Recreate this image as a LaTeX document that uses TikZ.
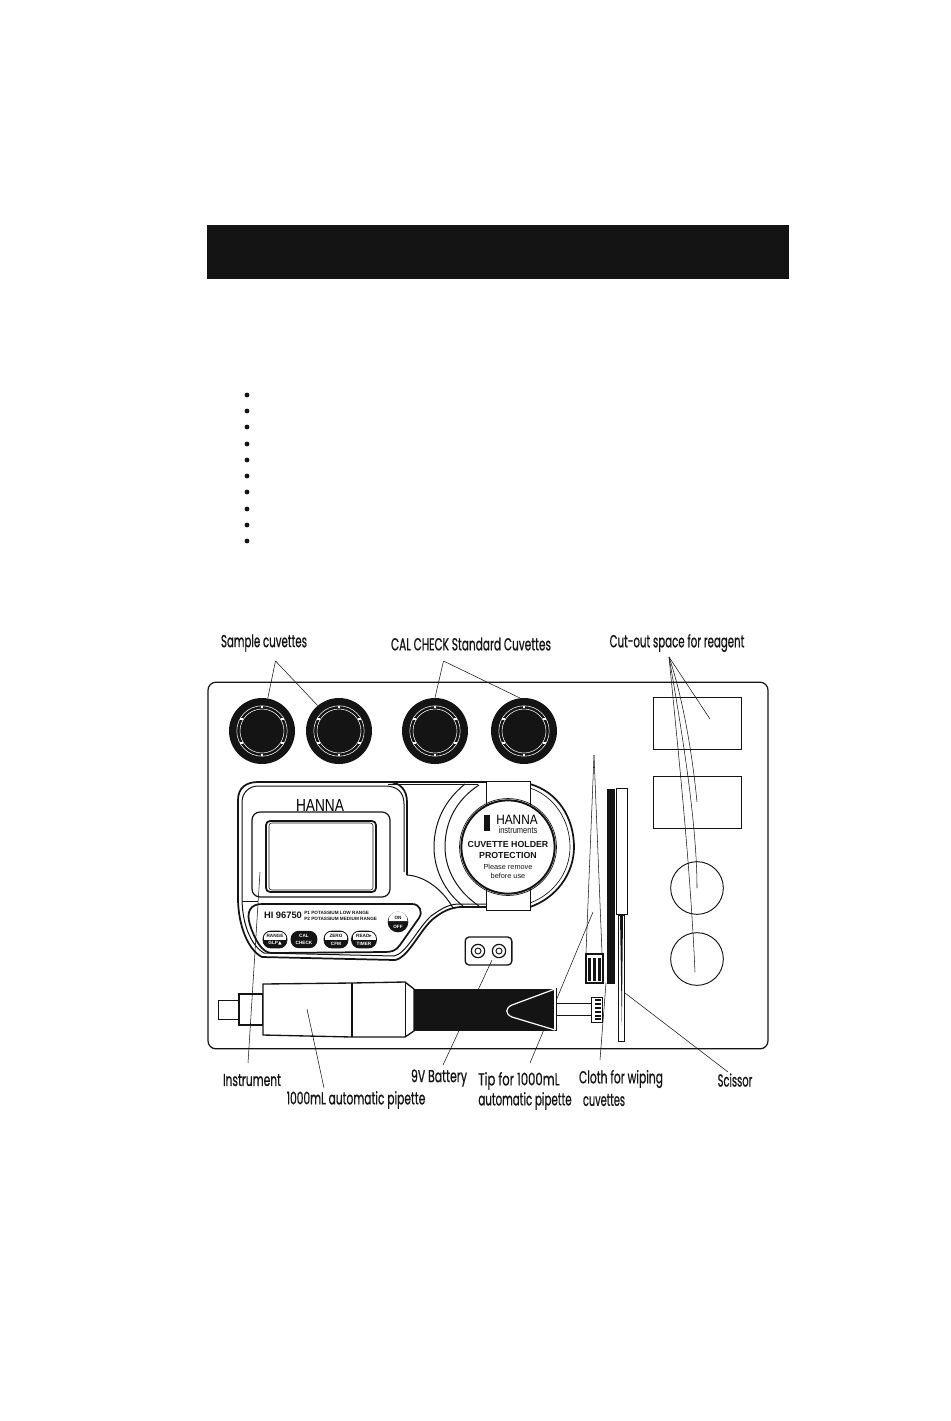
\documentclass[tikz,border=0pt]{standalone}
\usepackage{fontspec}
\usepackage{graphicx}
\setmainfont{Liberation Sans}
\newfontfamily\labfont[FakeBold=0.9]{Poppins}
\newfontfamily\symfont{DejaVu Sans}
\newcommand{\lbl}[2]{\resizebox*{#1pt}{\totalheight}{\labfont\fontsize{13pt}{15pt}\selectfont #2}}
\definecolor{ink}{HTML}{141414}
\tikzset{
  thin line/.style={draw=ink,line width=0.5pt},
  lead/.style={draw=ink,line width=0.4pt},
  outline/.style={draw=ink,line width=0.75pt},
  heavy/.style={draw=ink,line width=1.3pt},
  label text/.style={inner sep=0pt,text=ink},
  cuvette/.style={circle,fill=ink,minimum size=49.5pt,inner sep=0pt},
  reagent box/.style={rectangle,draw=ink,line width=0.7pt,fill=white,minimum width=66pt,minimum height=39pt,inner sep=0pt},
  reagent disc/.style={circle,draw=ink,line width=0.7pt,fill=white,minimum size=39.5pt,inner sep=0pt},
  bullet dot/.style={circle,fill=ink,minimum size=3.6pt,inner sep=0pt},
  fine text/.style={inner sep=0pt,text=ink,align=center},
}
\begin{document}
\begin{tikzpicture}[x=0.75pt,y=-0.75pt]
\useasboundingbox (0,0) rectangle (950,1421);
\fill[white] (0,0) rectangle (950,1421);
% header
\node[fill=ink,minimum width=436.5pt,minimum height=40.5pt,inner sep=0pt] (header) at (498,252) {};
% bullets
\foreach \i/\y in {1/395,2/411,3/427,4/444,5/460,6/476,7/492,8/509,9/525,10/541}
  \node[bullet dot] (b\i) at (247,\y) {};
% tray
\node[draw=ink,line width=0.9pt,rounded corners=6pt,minimum width=420pt,minimum height=275pt,inner sep=0pt] (tray) at (488,865.5) {};
% cuvettes
\foreach \n/\x in {c1/262,c2/339,c3/435,c4/524}{
  \node[cuvette] (\n) at (\x,731) {};
  \draw[white,line width=0.4pt] (\n) circle (25.2);
  \draw[white,line width=0.4pt] (\n) circle (22);
  \foreach \a in {30,90,150,210,270,330}
    \fill[white] (\n) ++(\a:24) ++(-1.4,-1.4) rectangle ++(2.8,2.8);
}
% reagent spaces
\node[reagent box] (r1) at (697,723) {};
\node[reagent box] (r2) at (697,802) {};
\node[reagent disc] (r3) at (697,888) {};
\node[reagent disc] (r4) at (697,959) {};
% instrument body
\draw[heavy] (238,898) -- (238,800) .. controls (238,788) and (246,782) .. (258,782) -- (388,782) .. controls (400,782) and (407,790) .. (407,802) -- (407,875);
\draw[outline] (242,898) -- (242,802) .. controls (242,792) and (250,786) .. (258,786) -- (385,786) .. controls (397,786) and (404,792) .. (404,804) -- (404,872);
\draw[outline] (388,784) -- (478,784);
\draw[heavy] (388,782) -- (487,782);
\draw[outline] (407,875) .. controls (425,876) and (443,890) .. (453,908);
\draw[heavy] (238,898) .. controls (238,925) and (248,950) .. (262,957) -- (395,960) .. controls (408,958) and (420,930) .. (433,919) .. controls (443,911) and (450,908) .. (460,907) -- (487,907);
\draw[outline] (242,898) .. controls (242,922) and (250,945) .. (264,953) -- (394,956) .. controls (406,954) and (418,928) .. (431,916) .. controls (441,909) and (448,904) .. (460,904) -- (487,904);
% bezel and screen
\draw[outline,rounded corners=6pt,line width=0.9pt] (252,812) rectangle (390,897);
\draw[heavy,rounded corners=3pt] (266,821) rectangle (376,892);
\draw[draw=ink,line width=0.4pt,rounded corners=2pt] (269,823) rectangle (373,890);
\draw[thin line] (242,901) -- (258,901);
% keypad panel
\draw[heavy] (262,904) -- (412,904) .. controls (420,904) and (423,912) .. (419,918) -- (400,945) .. controls (396,951) and (391,952) .. (385,952) -- (272,953) .. controls (262,953) and (255,940) .. (250,925) .. controls (246,912) and (250,904) .. (262,904) -- cycle;
\node[fine text,font=\bfseries\fontsize{7pt}{8pt}\selectfont] (model) at (283,915) {HI 96750};
\node[fine text,font=\bfseries\fontsize{3.5pt}{4pt}\selectfont,anchor=west] (rangea) at (304,912.5) {P1 POTASSIUM LOW RANGE};
\node[fine text,font=\bfseries\fontsize{3.5pt}{4pt}\selectfont,anchor=west] (rangeb) at (304,919) {P2 POTASSIUM MEDIUM RANGE};
\node[font=\fontsize{10pt}{10pt}\selectfont,inner sep=0pt] (logo) at (320,805) {\resizebox{36pt}{9pt}{HANNA}};
% buttons
\foreach \n/\x/\w/\top/\bot in {k1/275/24/RANGE/GLP{\symfont ▲},k3/336/24/ZERO/CFM,k4/364/25/READ{\symfont ▸}/TIMER}{
  \begin{scope}
    \clip[rounded corners=6pt] (\x-\w/2,931) rectangle (\x+\w/2,948);
    \fill[ink] (\x-\w/2,931) rectangle (\x+\w/2,948);
    \fill[white] (\x-\w/2+1,932) rectangle (\x+\w/2-1,939.5);
  \end{scope}
  \draw[ink,line width=0.6pt,rounded corners=6pt] (\x-\w/2,931) rectangle (\x+\w/2,948);
  \node[font=\bfseries\fontsize{3.5pt}{4pt}\selectfont,text=ink,inner sep=0pt] (\n t) at (\x,935.5) {\top};
  \node[font=\bfseries\fontsize{3.5pt}{4pt}\selectfont,text=white,inner sep=0pt] (\n b) at (\x,943.5) {\bot};
}
\node[fill=ink,rounded corners=6pt,minimum width=20pt,minimum height=13pt,inner sep=0pt] (k2) at (304,939.5) {};
\node[font=\bfseries\fontsize{3.5pt}{5pt}\selectfont,text=white,inner sep=0pt,align=center] (k2t) at (k2) {CAL\\CHECK};
\node[circle,fill=ink,minimum size=15.5pt,inner sep=0pt] (onoff) at (398,922) {};
\fill[white] (388.5,921) arc[start angle=180,end angle=360,radius=9.5] -- cycle;
\node[font=\bfseries\fontsize{3.5pt}{4pt}\selectfont,text=ink,inner sep=0pt] (on) at (398,917.5) {ON};
\node[font=\bfseries\fontsize{3.5pt}{4pt}\selectfont,text=white,inner sep=0pt] (off) at (398,926.5) {OFF};
% holder arcs
\draw[outline] (465,784) .. controls (445,800) and (434,822) .. (434,847) .. controls (434,870) and (445,892) .. (463,906);
\draw[outline] (479,785) .. controls (456,800) and (445,822) .. (445,847) .. controls (445,870) and (458,892) .. (479,906);
\draw[heavy] (530,784) .. controls (558,792) and (574,818) .. (574,847) .. controls (574,874) and (556,898) .. (530,907);
\draw[thin line] (530,788) .. controls (554,796) and (570,820) .. (570,847) .. controls (570,872) and (554,894) .. (530,903);
% strap
\node[draw=ink,line width=0.5pt,fill=white,minimum width=33pt,minimum height=97pt,inner sep=0pt] (strap) at (508.5,846) {};
% holder disc
\node[circle,draw=ink,line width=1.5pt,fill=white,minimum size=70pt,inner sep=0pt] (disc) at (508,847) {};
\draw[thin line] (disc) circle (48.5);
\node[fill=ink,minimum width=4.5pt,minimum height=12pt,inner sep=0pt] (hblock) at (487,823) {};
\node[inner sep=0pt,font=\fontsize{10pt}{10pt}\selectfont] (hlogo) at (517,820) {\resizebox{31pt}{7pt}{HANNA}};
\node[inner sep=0pt,font=\fontsize{6pt}{6pt}\selectfont,text=ink] (hinst) at (518,830) {\resizebox{29pt}{5pt}{instruments}};
\node[fine text,font=\bfseries\fontsize{6.6pt}{8.1pt}\selectfont] (hname) at (508,850) {CUVETTE HOLDER\\PROTECTION};
\node[fine text,font=\fontsize{5.5pt}{6.8pt}\selectfont] (hnote) at (508,871.5) {Please remove\\before use};
% battery
\node[draw=ink,line width=1pt,rounded corners=3pt,minimum width=35pt,minimum height=21pt,inner sep=0pt] (bat) at (488.5,951) {};
\foreach \n/\x in {t1/478,t2/499}{
  \node[circle,draw=ink,line width=0.9pt,minimum size=10pt,inner sep=0pt] (\n) at (\x,951) {};
  \draw[ink,line width=0.7pt] (\n) circle (3);
}
% leaders under the pipette
\coordinate (batp) at (492,960);
\coordinate (tipp) at (593,912);
\draw[lead] (batp) -- (443,1065);
\draw[lead] (tipp) -- (530,1063);
% pipette
\draw[outline] (218,1000) rectangle (239,1019);
\draw[heavy] (239,994) rectangle (263,1025);
\draw[outline,line width=1pt,fill=white] (263,984) -- (352,983) -- (405,982) -- (414,989) -- (414,1031) -- (405,1037) -- (352,1037) -- (263,1035) -- cycle;
\draw[heavy] (352,983) -- (352,1037);
\draw[outline] (405,982) -- (405,1037);
\fill[ink] (414,989) rectangle (556,1031);
\draw[white,line width=0.9pt,fill=ink] (555,989) -- (512,1005) .. controls (505,1008) and (505,1014) .. (512,1017) -- (555,1030);
\draw[white,line width=0.8pt] (555,989) -- (555,1030);
\draw[thin line] (556.5,988) -- (556.5,1031);
\draw[draw=ink,line width=0.8pt] (557,1003.5) -- (591,1003.5);
\draw[outline] (557,1015) -- (591,1015);
\draw[outline] (591,997) rectangle (602,1022);
\foreach \y in {1000,1004,1008,1012,1016,1019}
  \fill[ink] (595,\y-0.7) rectangle (601,\y+0.7);
% small box
\draw[outline,line width=1pt] (586,954) rectangle (603,983);
\foreach \x in {588,593,598}
  \fill[ink] (\x,958) rectangle ++(3.2,23);
% cloth, bar and scissor
\node[fill=ink,minimum width=6pt,minimum height=146pt,inner sep=0pt] (bar) at (611,886.5) {};
\draw[thin line] (616,788) rectangle (627,914);
\draw[outline] (618,915) rectangle (624.5,1041);
\fill[ink] (620,915) -- (623,915) -- (621.8,1025) -- cycle;
% labels
\node[label text] (l1) at (264,643) {\lbl{64.5}{Sample cuvettes}};
\node[label text] (l2) at (471,644) {\lbl{120}{CAL CHECK Standard Cuvettes}};
\node[label text] (l3) at (677,643) {\lbl{101}{Cut-out space for reagent}};
\node[label text] (l4) at (252,1080) {\lbl{43.5}{Instrument}};
\node[label text] (l5) at (439,1078) {\lbl{42}{9V Battery}};
\node[label text] (l6) at (519,1081) {\lbl{61}{Tip for 1000mL}};
\node[label text] (l7) at (356,1100) {\lbl{104}{1000mL automatic pipette}};
\node[label text] (l8) at (525,1101) {\lbl{70}{automatic pipette}};
\node[label text] (l9) at (621,1079) {\lbl{63}{Cloth for wiping}};
\node[label text] (l10) at (604,1100) {\lbl{31.5}{cuvettes}};
\node[label text] (l11) at (735,1080) {\lbl{26}{Scissor}};
% connectors
\coordinate (sa) at (275.5,661);
\coordinate (ca) at (443.5,661);
\coordinate (ra) at (669,657);
\coordinate (pa) at (594,755);
\draw[lead] (sa) -- (c1.80);
\draw[lead] (sa) -- (c2.130);
\draw[lead] (ca) -- (c3.90);
\draw[lead] (ca) -- (c4.97);
\draw[lead] (ra) -- (710,719);
\draw[lead] (ra) .. controls (682,695) and (692,750) .. (697,802);
\draw[lead] (ra) .. controls (680,720) and (697,820) .. (697,888);
\draw[lead] (ra) .. controls (677,740) and (690,860) .. (695,972);
\draw[lead] (pa) -- (586,953);
\draw[lead] (pa) -- (602,953);
\draw[lead] (260,872) -- (248,1063);
\draw[lead] (307,1009) -- (324,1088);
\draw[lead] (606,983) -- (600,1060);
\draw[lead] (625,993) -- (728,1072);
\end{tikzpicture}
\end{document}
